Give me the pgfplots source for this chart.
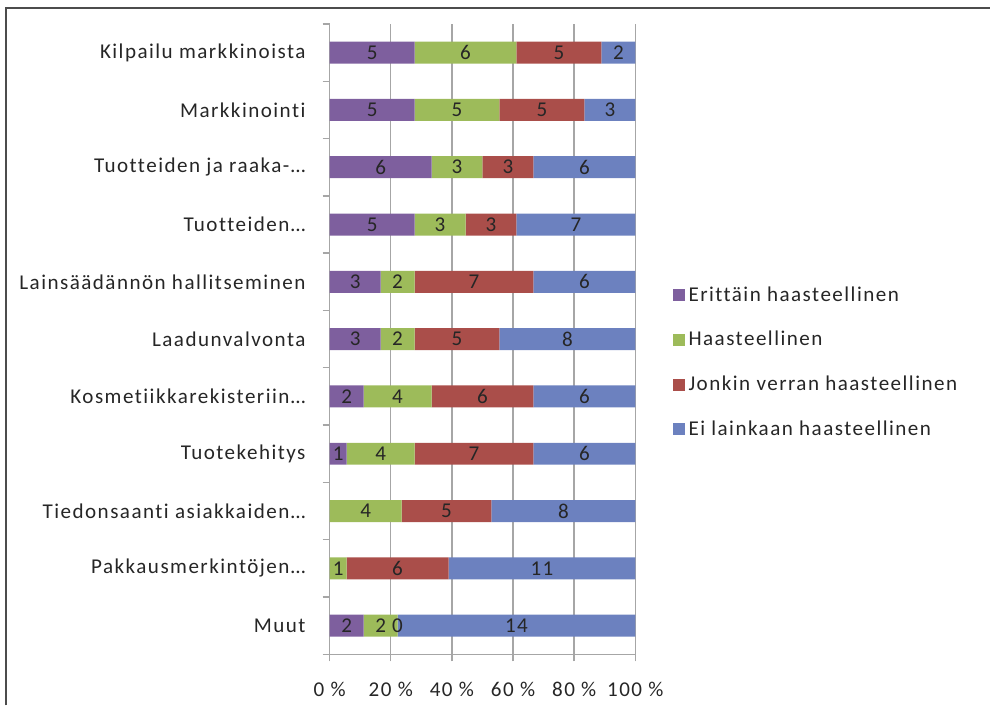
\documentclass[border=0pt]{standalone}
\usepackage{fontspec}
\setmainfont{Carlito}[LetterSpace=7, Ligatures={NoCommon}]
\usepackage{pgfplots}
\usepackage{pgfplotstable}
\pgfplotsset{compat=1.18}
\definecolor{cPurple}{HTML}{7E5F9E}
\definecolor{cGreen}{HTML}{9DBB5A}
\definecolor{cRed}{HTML}{AA4E4A}
\definecolor{cBlue}{HTML}{6C81BF}
\definecolor{cGrid}{HTML}{A6A6A6}
\definecolor{cText}{HTML}{262626}

% counts per answer; pos 10 = top row
\pgfplotstableread{
pos a b c d
10 5 6 5 2
9  5 5 5 3
8  6 3 3 6
7  5 3 3 7
6  3 2 7 6
5  3 2 5 8
4  2 4 6 6
3  1 4 7 6
2  0 4 5 8
1  0 1 6 11
0  2 2 0 14
}\haaste

\def\tot{(\thisrow{a}+\thisrow{b}+\thisrow{c}+\thisrow{d})}

\pgfplotsset{
  geom/.style={
    scale only axis, width=6.12cm, height=12.62cm,
    at={(6.6cm,1.02cm)}, anchor=south west,
    xmin=0, xmax=100, ymin=-0.5, ymax=10.5,
  },
}

\begin{document}
\begin{tikzpicture}[font=\fontsize{12}{14}\selectfont]
\path (0,0) rectangle (19.82cm,14.12cm);
\draw[line width=1.2pt, black!70] (0.12cm,0) -- (0.12cm,13.96cm) -- (19.82cm,13.96cm);

\begin{axis}[
  geom,
  xbar stacked, bar width=0.44cm,
  axis x line*=bottom, axis y line*=left,
  axis line style={cGrid, line width=0.8pt},
  xtick={0,20,...,100},
  xticklabels={0 \%,20 \%,40 \%,60 \%,80 \%,100 \%},
  xmajorgrids, grid style={cGrid, line width=0.8pt},
  ytick={-0.5,0.5,...,10.5}, yticklabels={},
  extra y ticks={0,1,...,10},
  extra y tick labels={Muut,Pakkausmerkintöjen…,Tiedonsaanti asiakkaiden…,Tuotekehitys,Kosmetiikkarekisteriin…,Laadunvalvonta,Lainsäädännön hallitseminen,Tuotteiden…,Tuotteiden ja raaka-…,Markkinointi,Kilpailu markkinoista},
  extra y tick style={major tick length=0pt, yticklabel style={xshift=-0.36cm}},
  tick align=outside, major tick length=0.14cm,
  tick style={cGrid, line width=0.8pt},
  tick label style={text=cText},
  xticklabel style={yshift=-0.3cm},
  legend style={at={(1.105,0.595)}, anchor=north west, draw=none, fill=none,
    row sep=11.6pt, text=cText, cells={anchor=west}},
  legend image code/.code={\fill[#1] (0cm,-0.12cm) rectangle (0.24cm,0.12cm);},
]
\addplot[fill=cPurple, draw=none] table[y=pos, x expr={\thisrow{a}/\tot*100}] {\haaste};
\addlegendentry{Erittäin haasteellinen}
\addplot[fill=cGreen, draw=none] table[y=pos, x expr={\thisrow{b}/\tot*100}] {\haaste};
\addlegendentry{Haasteellinen}
\addplot[fill=cRed, draw=none] table[y=pos, x expr={\thisrow{c}/\tot*100}] {\haaste};
\addlegendentry{Jonkin verran haasteellinen}
\addplot[fill=cBlue, draw=none] table[y=pos, x expr={\thisrow{d}/\tot*100}] {\haaste};
\addlegendentry{Ei lainkaan haasteellinen}
\end{axis}

% value labels centred in the segments
\begin{axis}[
  geom, hide axis, clip=false,
  nodes near coords, point meta=explicit symbolic,
  every node near coord/.append style={anchor=center, text=cText, inner sep=0pt},
]
\addplot[draw=none] table[y=pos, meta=a,
  x expr={\thisrow{a}==0 ? nan : \thisrow{a}/2/\tot*100}] {\haaste};
\addplot[draw=none] table[y=pos, meta=b,
  x expr={(\thisrow{a}+\thisrow{b}/2)/\tot*100}] {\haaste};
\addplot[draw=none] table[y=pos, meta=c,
  x expr={(\thisrow{a}+\thisrow{b}+\thisrow{c}/2)/\tot*100}] {\haaste};
\addplot[draw=none] table[y=pos, meta=d,
  x expr={(\thisrow{a}+\thisrow{b}+\thisrow{c}+\thisrow{d}/2)/\tot*100}] {\haaste};
\end{axis}
\end{tikzpicture}
\end{document}
